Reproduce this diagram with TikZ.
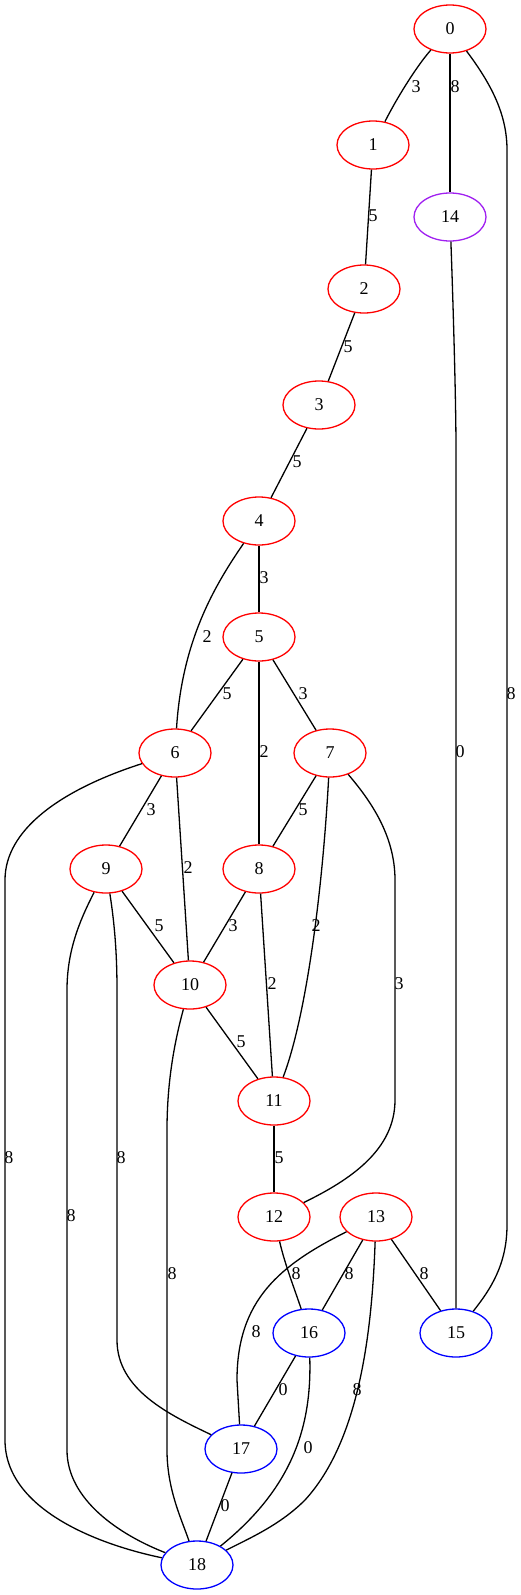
\documentclass[tikz,border=0pt]{standalone}
\usepackage{fontspec}
\setmainfont{Liberation Serif}
\usetikzlibrary{shapes.geometric}
\definecolor{gvred}{RGB}{255,0,0}
\definecolor{gvpurple}{RGB}{160,32,240}
\definecolor{gvblue}{RGB}{0,0,255}
\begin{document}
\begin{tikzpicture}[x=1pt,y=-1pt,
  gv/.style={ellipse,draw,line width=1.3pt,minimum width=72pt,minimum height=48pt,inner sep=0pt,font=\fontsize{18}{20}\selectfont},
  rn/.style={gv,draw=gvred},
  pn/.style={gv,draw=gvpurple},
  bn/.style={gv,draw=gvblue},
  lab/.style={inner sep=0pt,font=\fontsize{18}{20}\selectfont},
  ed/.style={draw=black,line width=1.3pt}]
\useasboundingbox (0,0) rectangle (521,1595);
% nodes
\node[rn] (n0) at (450,29) {0};
\node[rn] (n1) at (373,145) {1};
\node[pn] (n14) at (450,217) {14};
\node[rn] (n2) at (364,289) {2};
\node[rn] (n3) at (319,405) {3};
\node[rn] (n4) at (259,521) {4};
\node[rn] (n5) at (259,637) {5};
\node[rn] (n6) at (175,753) {6};
\node[rn] (n7) at (330,753) {7};
\node[rn] (n8) at (259,869) {8};
\node[rn] (n9) at (106,869) {9};
\node[rn] (n10) at (190,985) {10};
\node[rn] (n11) at (274,1101) {11};
\node[rn] (n12) at (274,1217) {12};
\node[rn] (n13) at (376,1217) {13};
\node[bn] (n15) at (456,1333) {15};
\node[bn] (n16) at (309,1333) {16};
\node[bn] (n17) at (241,1449) {17};
\node[bn] (n18) at (197,1565) {18};
% edges
\path[ed] (n0) .. controls (420,62) and (400,92) .. (n1);
\path[ed] (n0) -- (n14);
\path[ed] (n0) .. controls (492,85) and (507,115) .. (507,150) -- (507,1225) .. controls (507,1265) and (490,1290) .. (n15);
\path[ed] (n1) -- (n2);
\path[ed] (n2) -- (n3);
\path[ed] (n3) -- (n4);
\path[ed] (n4) -- (n5);
\path[ed] (n4) .. controls (215,585) and (182,640) .. (n6);
\path[ed] (n5) -- (n6);
\path[ed] (n5) -- (n7);
\path[ed] (n5) -- (n8);
\path[ed] (n6) -- (n9);
\path[ed] (n6) -- (n10);
\path[ed] (n6) .. controls (60,790) and (5,830) .. (5,880) -- (5,1440) .. controls (5,1510) and (100,1545) .. (n18);
\path[ed] (n7) -- (n8);
\path[ed] (n7) .. controls (322,900) and (305,1020) .. (n11);
\path[ed] (n7) .. controls (370,800) and (395,835) .. (395,880) -- (395,1100) .. controls (395,1150) and (350,1180) .. (n12);
\path[ed] (n8) -- (n10);
\path[ed] (n8) -- (n11);
\path[ed] (n9) -- (n10);
\path[ed] (n9) .. controls (114,920) and (117,950) .. (117,990) -- (117,1340) .. controls (117,1390) and (170,1415) .. (n17);
\path[ed] (n9) .. controls (80,920) and (67,950) .. (67,990) -- (67,1450) .. controls (67,1500) and (120,1535) .. (n18);
\path[ed] (n10) -- (n11);
\path[ed] (n10) .. controls (175,1040) and (167,1080) .. (167,1130) -- (167,1450) .. controls (167,1490) and (182,1520) .. (n18);
\path[ed] (n11) -- (n12);
\path[ed] (n12) .. controls (285,1265) and (295,1290) .. (n16);
\path[ed] (n13) -- (n16);
\path[ed] (n13) -- (n15);
\path[ed] (n13) .. controls (280,1265) and (237,1300) .. (237,1380) -- (n17);
\path[ed] (n13) .. controls (372,1330) and (360,1440) .. (305,1500) .. controls (280,1525) and (250,1538) .. (n18);
\path[ed] (n14) .. controls (453,300) and (456,400) .. (456,450) -- (n15);
\path[ed] (n16) -- (n17);
\path[ed] (n16) .. controls (312,1430) and (290,1490) .. (n18);
\path[ed] (n17) -- (n18);
% labels
\node[lab] (l0-1) at (416,87) {3};
\node[lab] (l0-14) at (455,87) {8};
\node[lab] (l0-15) at (511,694) {8};
\node[lab] (l1-2) at (373,216) {5};
\node[lab] (l2-3) at (348,347) {5};
\node[lab] (l3-4) at (297,462) {5};
\node[lab] (l4-5) at (264,578) {3};
\node[lab] (l4-6) at (207,637) {2};
\node[lab] (l5-6) at (227,694) {5};
\node[lab] (l5-7) at (303,694) {3};
\node[lab] (l5-8) at (264,752) {2};
\node[lab] (l14-15) at (460,752) {0};
\node[lab] (l6-9) at (151,810) {3};
\node[lab] (l7-8) at (303,810) {5};
\node[lab] (l6-10) at (188,868) {2};
\node[lab] (l9-10) at (159,926) {5};
\node[lab] (l8-10) at (233,926) {3};
\node[lab] (l7-11) at (316,926) {2};
\node[lab] (l8-11) at (272,984) {2};
\node[lab] (l7-12) at (399,984) {3};
\node[lab] (l10-11) at (241,1042) {5};
\node[lab] (l6-18) at (9,1158) {8};
\node[lab] (l9-17) at (121,1158) {8};
\node[lab] (l11-12) at (279,1158) {5};
\node[lab] (l9-18) at (71,1216) {8};
\node[lab] (l10-18) at (172,1274) {8};
\node[lab] (l12-16) at (296,1274) {8};
\node[lab] (l13-16) at (349,1274) {8};
\node[lab] (l13-15) at (424,1274) {8};
\node[lab] (l13-17) at (256,1332) {8};
\node[lab] (l16-17) at (283,1390) {0};
\node[lab] (l13-18) at (357,1390) {8};
\node[lab] (l16-18) at (308,1448) {0};
\node[lab] (l17-18) at (225,1506) {0};
\end{tikzpicture}
\end{document}
